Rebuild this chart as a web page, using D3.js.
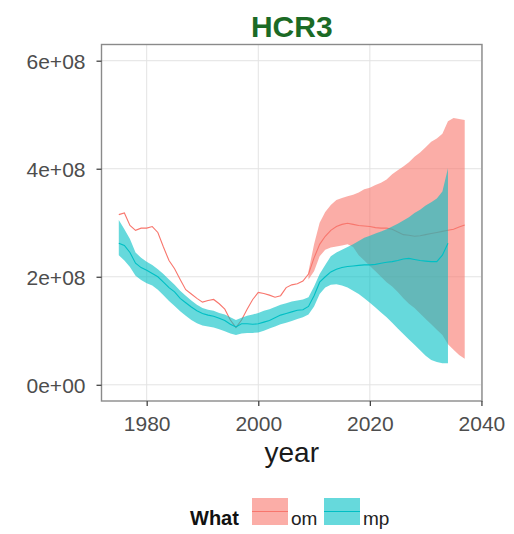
<!DOCTYPE html>
<html>
<head>
<meta charset="utf-8">
<script src="https://cdn.jsdelivr.net/npm/d3@7"></script>
<style>
  html, body { margin: 0; padding: 0; background: #fff; }
  svg { display: block; font-family: "Liberation Sans", Arial, Helvetica, sans-serif; }
</style>
</head>
<body>
<svg id="chart" width="514" height="534"></svg>
<script>
// Spawning biomass by year for the HCR3 run: operating model (om) and
// management procedure (mp) medians with their projection bands (units 1e8).
const omYears = d3.range(1975, 2038);
const omMid = [
  3.15, 3.18, 2.95, 2.86, 2.90, 2.90, 2.93, 2.82, 2.55, 2.30,
  2.15, 1.95, 1.76, 1.68, 1.60, 1.53, 1.56, 1.58, 1.50, 1.40,
  1.20, 1.06, 1.20, 1.40, 1.58, 1.71, 1.69, 1.66, 1.62, 1.65,
  1.80, 1.85, 1.87, 1.92, 2.05, 2.35, 2.60, 2.75, 2.86, 2.93,
  2.97, 2.99, 2.97, 2.95, 2.94, 2.93, 2.91, 2.90, 2.90, 2.88,
  2.83, 2.78, 2.77, 2.75, 2.76, 2.78, 2.80, 2.82, 2.84, 2.86,
  2.88, 2.92, 2.96
];
// projection band for om starts in 2009
const omBandYears = d3.range(2009, 2038);
const omLower = [
  1.95, 2.10, 2.38, 2.50, 2.54, 2.56, 2.58, 2.60, 2.55, 2.40,
  2.30, 2.20, 2.10, 2.00, 1.90, 1.82, 1.72, 1.60, 1.50, 1.42,
  1.32, 1.22, 1.12, 1.02, 0.92, 0.75, 0.65, 0.55, 0.48
];
const omUpper = [
  2.10, 2.60, 3.00, 3.20, 3.33, 3.42, 3.46, 3.49, 3.52, 3.56,
  3.62, 3.65, 3.70, 3.74, 3.80, 3.90, 3.97, 4.04, 4.12, 4.22,
  4.30, 4.40, 4.50, 4.56, 4.65, 4.88, 4.94, 4.92, 4.90
];

const mpYears = d3.range(1975, 2035);
const mpMid = [
  2.62, 2.58, 2.45, 2.25, 2.17, 2.12, 2.06, 2.00, 1.90, 1.80,
  1.72, 1.60, 1.52, 1.44, 1.37, 1.32, 1.29, 1.27, 1.23, 1.19,
  1.12, 1.07, 1.13, 1.13, 1.12, 1.13, 1.16, 1.19, 1.24, 1.29,
  1.32, 1.35, 1.38, 1.39, 1.45, 1.65, 1.90, 2.00, 2.09, 2.14,
  2.17, 2.19, 2.20, 2.21, 2.22, 2.22, 2.23, 2.25, 2.27, 2.28,
  2.30, 2.33, 2.34, 2.32, 2.30, 2.29, 2.28, 2.28, 2.40, 2.62
];
const mpLower = [
  2.40, 2.30, 2.18, 2.02, 1.94, 1.88, 1.84, 1.76, 1.66, 1.55,
  1.46, 1.36, 1.28, 1.20, 1.14, 1.10, 1.08, 1.06, 1.03, 0.99,
  0.95, 0.92, 0.95, 0.96, 0.96, 0.97, 1.00, 1.04, 1.08, 1.12,
  1.15, 1.18, 1.22, 1.25, 1.30, 1.45, 1.68, 1.80, 1.85, 1.86,
  1.84, 1.80, 1.74, 1.68, 1.60, 1.52, 1.43, 1.34, 1.25, 1.15,
  1.04, 0.94, 0.84, 0.74, 0.64, 0.54, 0.46, 0.42, 0.40, 0.40
];
const mpUpper = [
  3.05, 2.88, 2.70, 2.45, 2.35, 2.28, 2.22, 2.14, 2.05, 1.95,
  1.85, 1.74, 1.65, 1.56, 1.48, 1.42, 1.39, 1.37, 1.33, 1.30,
  1.25, 1.20, 1.24, 1.28, 1.30, 1.33, 1.37, 1.40, 1.44, 1.48,
  1.51, 1.54, 1.56, 1.58, 1.62, 1.82, 2.05, 2.22, 2.38, 2.45,
  2.50, 2.55, 2.60, 2.66, 2.72, 2.76, 2.80, 2.84, 2.88, 2.93,
  2.98, 3.04, 3.10, 3.18, 3.24, 3.32, 3.38, 3.45, 3.58, 4.01
];

const xTicks = [1980, 2000, 2020, 2040];
const yTicks = [0, 2e8, 4e8, 6e8];
const yTickLabels = ["0e+00", "2e+08", "4e+08", "6e+08"];
const seriesNames = ["om", "mp"];
const seriesColors = ["#F8766D", "#00BFC4"];

const SCALE = 1e8;
const toRows = (years, vals) => years.map((yr, i) => ({ year: yr, v: vals[i] * SCALE }));
const toBand = (years, lo, hi) => years.map((yr, i) => ({ year: yr, lo: lo[i] * SCALE, hi: hi[i] * SCALE }));

const series = [
  { name: "om", color: seriesColors[0], line: toRows(omYears, omMid), band: toBand(omBandYears, omLower, omUpper) },
  { name: "mp", color: seriesColors[1], line: toRows(mpYears, mpMid), band: toBand(mpYears, mpLower, mpUpper) }
];

const svg = d3.select("#chart");
const panel = { left: 101.5, right: 482, top: 44.5, bottom: 401 };

// ggplot-style 5% expansion on both axes
const xMin = 1975, xMax = 2037;
const xPad = (xMax - xMin) * 0.05;
const x = d3.scaleLinear().domain([xMin - xPad, xMax + xPad]).range([panel.left, panel.right]);
const yPad = 6e8 * 0.05;
const y = d3.scaleLinear().domain([-yPad, 6e8 + yPad]).range([panel.bottom, panel.top]);

// grid
const grid = svg.append("g");
grid.selectAll("line.gy").data(yTicks).join("line")
  .attr("x1", panel.left).attr("x2", panel.right)
  .attr("y1", d => y(d)).attr("y2", d => y(d))
  .attr("stroke", "#E3E3E3").attr("stroke-width", 1);
grid.selectAll("line.gx").data(xTicks).join("line")
  .attr("y1", panel.top).attr("y2", panel.bottom)
  .attr("x1", d => x(d)).attr("x2", d => x(d))
  .attr("stroke", "#E3E3E3").attr("stroke-width", 1);

// bands and lines, one series at a time
const area = d3.area().x(d => x(d.year)).y0(d => y(d.lo)).y1(d => y(d.hi));
const line = d3.line().x(d => x(d.year)).y(d => y(d.v));

const plot = svg.append("g");
series.forEach(s => {
  plot.append("path").datum(s.band).attr("d", area)
    .attr("fill", s.color).attr("fill-opacity", 0.6).attr("stroke", "none");
  plot.append("path").datum(s.line).attr("d", line)
    .attr("fill", "none").attr("stroke", s.color).attr("stroke-width", 1.1);
});

// panel border
svg.append("rect")
  .attr("x", panel.left).attr("y", panel.top)
  .attr("width", panel.right - panel.left).attr("height", panel.bottom - panel.top)
  .attr("fill", "none").attr("stroke", "#8A8A8A").attr("stroke-width", 1.4);

// axes
const xAxis = d3.axisBottom(x).tickValues(xTicks).tickFormat(d3.format("d")).tickSize(5).tickPadding(10);
const yAxis = d3.axisLeft(y).tickValues(yTicks).tickFormat((d, i) => yTickLabels[i]).tickSize(5).tickPadding(11);

const gx = svg.append("g").attr("transform", `translate(0,${panel.bottom})`).call(xAxis);
const gy = svg.append("g").attr("transform", `translate(${panel.left},0)`).call(yAxis);
[gx, gy].forEach(g => {
  g.select(".domain").remove();
  g.selectAll(".tick line").attr("stroke", "#444").attr("stroke-width", 1.3);
  g.selectAll(".tick text").attr("fill", "#4D4D4D").style("font-size", "21px")
    .style("font-family", '"Liberation Sans", Arial, sans-serif');
});
gx.selectAll(".tick text").attr("dy", "0.71em");
gy.selectAll(".tick text").attr("dy", "0.35em");

// title and axis label
svg.append("text").attr("x", (panel.left + panel.right) / 2).attr("y", 37)
  .attr("text-anchor", "middle").attr("fill", "#1B6A25")
  .style("font-size", "30px").style("font-weight", "bold").text("HCR3");
svg.append("text").attr("x", (panel.left + panel.right) / 2).attr("y", 462)
  .attr("text-anchor", "middle").attr("fill", "#1A1A1A")
  .style("font-size", "28px").text("year");

// legend
const legend = svg.append("g");
legend.append("text").attr("x", 190).attr("y", 525)
  .style("font-size", "20px").style("font-weight", "bold").attr("fill", "#111").text("What");
const keyX = [252, 324];
const keyW = 36, keyH = 27, keyY = 498;
seriesNames.forEach((name, i) => {
  const g = legend.append("g");
  g.append("rect").attr("x", keyX[i]).attr("y", keyY).attr("width", keyW).attr("height", keyH)
    .attr("fill", seriesColors[i]).attr("fill-opacity", 0.6);
  g.append("line").attr("x1", keyX[i]).attr("x2", keyX[i] + keyW)
    .attr("y1", keyY + keyH / 2).attr("y2", keyY + keyH / 2)
    .attr("stroke", seriesColors[i]).attr("stroke-width", 1.1);
  g.append("text").attr("x", keyX[i] + keyW + 3).attr("y", 525)
    .style("font-size", "19px").attr("fill", "#222").text(name);
});
</script>
</body>
</html>
